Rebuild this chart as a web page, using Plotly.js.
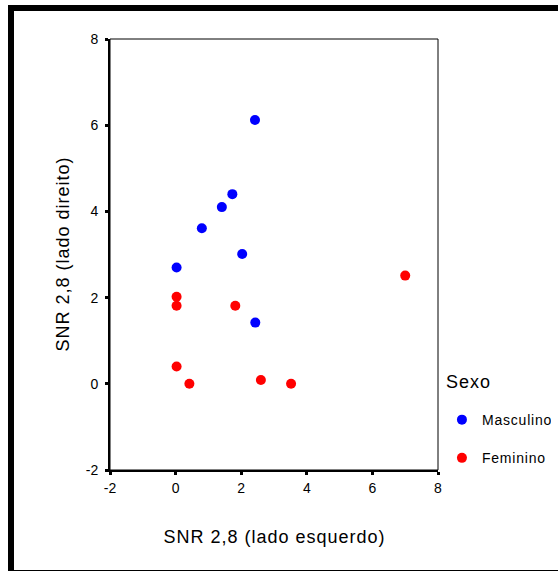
<!DOCTYPE html>
<html>
<head>
<meta charset="utf-8">
<script src="https://cdn.plot.ly/plotly-3.0.1.min.js"></script>
<style>
  html, body { margin: 0; padding: 0; background: #ffffff; overflow: hidden; }
  #wrap { position: relative; width: 558px; height: 572px; overflow: hidden; }
  #chart { position: absolute; left: 0; top: 0; width: 558px; height: 572px; }
  #frame { position: absolute; left: 8px; top: 5px; width: 560px; height: 559px;
           border-top: 6px solid #000; border-left: 6px solid #000; border-bottom: 1px solid #000;
           pointer-events: none; }
  #chart .legendtext { letter-spacing: 0.8px; }
  #chart .annotation-text { letter-spacing: 1px; }
</style>
</head>
<body>
<div id="wrap">
  <div id="chart"></div>
  <div id="frame"></div>
</div>
<script>
// Data
const seriesNames = ["Masculino", "Feminino"];
const mascX = [2.42, 1.73, 1.41, 0.80, 2.03, 0.03, 2.43];
const mascY = [6.12, 4.40, 4.10, 3.61, 3.01, 2.70, 1.42];
const femX = [0.03, 0.03, 1.82, 7.00, 0.03, 0.42, 2.60, 3.52];
const femY = [2.02, 1.81, 1.81, 2.51, 0.40, 0.00, 0.09, 0.00];
const tickVals = [-2, 0, 2, 4, 6, 8];
const tickText = ["-2", "0", "2", "4", "6", "8"];
const xTitle = "SNR 2,8 (lado esquerdo)";
const yTitle = "SNR 2,8 (lado direito)";
const legendTitle = "Sexo";

const FONT = "Liberation Sans, Arial, sans-serif";

const traces = [
  { x: mascX, y: mascY, name: seriesNames[0], type: "scatter", mode: "markers",
    legendgroup: "m", marker: { color: "#0000ff", size: 10 } },
  { x: femX, y: femY, name: seriesNames[1], type: "scatter", mode: "markers",
    legendgroup: "f", marker: { color: "#ff0000", size: 10 } }
];

const axisCommon = {
  range: [-2, 8], tickmode: "array", tickvals: tickVals, ticktext: tickText,
  showgrid: false, zeroline: false, showline: true, linecolor: "#000", linewidth: 2,
  ticks: "outside", ticklen: 3, tickwidth: 3, tickcolor: "#000",
  tickfont: { family: FONT, size: 14, color: "#000" }, automargin: false
};

const layout = {
  width: 558, height: 572,
  paper_bgcolor: "#ffffff", plot_bgcolor: "#ffffff",
  margin: { l: 110, r: 120, t: 39, b: 102, autoexpand: false },
  font: { family: FONT, color: "#000" },
  xaxis: Object.assign({}, axisCommon, { ticklabelstandoff: 1 }),
  yaxis: Object.assign({}, axisCommon, { ticklabelstandoff: 4 }),
  showlegend: true,
  legend: {
    x: 1.012, xanchor: "left", y: 0.153, yanchor: "top",
    bgcolor: "rgba(0,0,0,0)", borderwidth: 0,
    font: { family: FONT, size: 14, color: "#000" },
    traceorder: "grouped", tracegroupgap: 17, itemwidth: 30
  },
  shapes: [
    { type: "rect", xref: "paper", yref: "paper", x0: 0, x1: 1, y0: 0, y1: 1,
      line: { color: "#000", width: 1 }, layer: "below" }
  ],
  annotations: [
    { text: xTitle, xref: "paper", yref: "paper", x: 0.5, y: -0.155,
      xanchor: "center", yanchor: "middle", showarrow: false,
      font: { family: FONT, size: 18, color: "#000" } },
    { text: yTitle, xref: "paper", yref: "paper", x: -0.146, y: 0.5,
      xanchor: "center", yanchor: "middle", showarrow: false, textangle: -90,
      font: { family: FONT, size: 18, color: "#000" } },
    { text: legendTitle, xref: "paper", yref: "paper", x: 1.024, y: 0.204,
      xanchor: "left", yanchor: "middle", showarrow: false,
      font: { family: FONT, size: 18, color: "#000" } }
  ]
};

Plotly.newPlot("chart", traces, layout, { displayModeBar: false, staticPlot: true });
</script>
</body>
</html>
